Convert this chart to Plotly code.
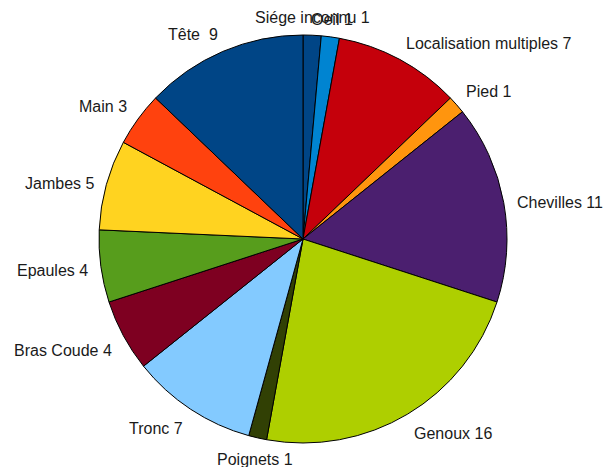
import math
import plotly.graph_objects as go

labels = ["Siége inconnu", "Oeil", "Localisation multiples", "Pied", "Chevilles",
          "Genoux", "Poignets", "Tronc", "Bras Coude", "Epaules", "Jambes", "Main", "Tête "]
values = [1, 1, 7, 1, 11, 16, 1, 7, 4, 4, 5, 3, 9]
colors = ["#004586", "#0084d1", "#c5000b", "#ff950e", "#4b1f6f", "#aecf00", "#314004",
          "#83caff", "#7e0021", "#579d1c", "#ffd320", "#ff420e", "#004586"]

OFF = 8                      # page body margin in the browser
W, H = 615 - OFF, 467 - OFF  # figure size so it fills the window
cx, cy, r = 303 - OFF, 239 - OFF, 204   # pie centre / radius in figure pixels
label_r = r * 1.064

fig = go.Figure(go.Pie(
    labels=labels,
    values=values,
    sort=False,
    direction="clockwise",
    rotation=0,
    marker=dict(colors=colors, line=dict(color="black", width=1)),
    textinfo="none",
    showlegend=False,
    domain=dict(x=[(cx - r) / W, (cx + r) / W], y=[(H - cy - r) / H, (H - cy + r) / H]),
    hoverinfo="label+value",
))

# Outside labels placed at each slice's mid-angle (computed from the data)
total = sum(values)
cum = 0
annotations = []
for lab, v in zip(labels, values):
    mid = (cum + v / 2) / total * 2 * math.pi
    cum += v
    s, c = math.sin(mid), math.cos(mid)
    px = cx + label_r * s
    py = cy - label_r * c
    if abs(s) < 0.3:
        xa = "center"
    elif s > 0:
        xa = "left"
        px -= 2
    else:
        xa = "right"
        px += 2
    if abs(c) < 0.3:
        dy = 0
    elif c > 0:
        dy = -6.5
    else:
        dy = 6.5
    py += dy + 2
    annotations.append(dict(
        x=px / W, y=1 - py / H, xref="paper", yref="paper",
        text=f"{lab} {v}", showarrow=False, xanchor=xa, yanchor="middle",
        font=dict(family="Liberation Sans", size=16, color="#1a1a1a"),
    ))

fig.update_layout(
    width=W, height=H,
    margin=dict(l=0, r=0, t=0, b=0),
    paper_bgcolor="white",
    plot_bgcolor="white",
    annotations=annotations,
)
fig.write_html("out.html")
